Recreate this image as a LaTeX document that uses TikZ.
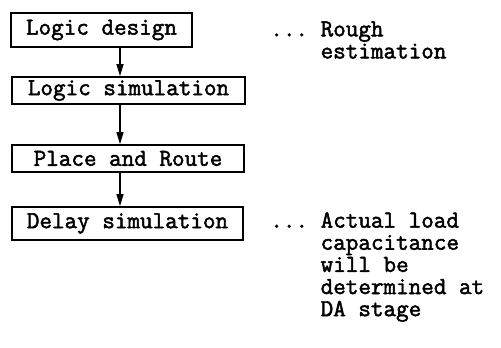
\documentclass[tikz,border=0pt]{standalone}
\usepackage{fontspec}
\setmonofont{Latin Modern Mono}[AutoFakeBold=2]
\usetikzlibrary{arrows.meta, positioning}
\newcommand{\typewriter}{\ttfamily\bfseries\fontsize{13.9}{12.6}\selectfont}
\tikzset{
    stage/.style={draw, line width=1pt, inner sep=0pt, font=\typewriter},
    flow/.style={line width=0.8pt, -{Triangle[length=2.4mm, width=1.4mm]}},
    remark/.style={inner sep=0pt, align=left, anchor=north west, font=\typewriter},
}

\begin{document}
\begin{tikzpicture}[x=0.02cm, y=-0.02cm]
    \useasboundingbox (0,0) rectangle (501,348);
    \node[stage, minimum width=3.62cm, minimum height=0.68cm] (design) at (101.5,30) {Logic design};
    \node[stage, minimum width=4.66cm, minimum height=0.54cm] (simul) at (128.5,90.5) {Logic simulation};
    \node[stage, minimum width=4.64cm, minimum height=0.54cm] (route) at (128,158.5) {Place and Route};
    \node[stage, minimum width=4.62cm, minimum height=0.66cm] (delay) at (127.5,223.5) {Delay simulation};

    \coordinate (axis) at (120,0);
    \draw[flow] (design.south -| axis) -- (simul.north -| axis);
    \draw[flow] (simul.south -| axis) -- (route.north -| axis);
    \draw[flow] (route.south -| axis) -- (delay.north -| axis);

    % notes on the right
    \node[remark] (rough) at (270,21) {...~Rough\\\hphantom{...~}estimation};
    \node[remark] (actual) at (270,212) {...~Actual load\\\hphantom{...~}capacitance\\
        \hphantom{...~}will be\\\hphantom{...~}determined at\\\hphantom{...~}DA stage};
\end{tikzpicture}
\end{document}
